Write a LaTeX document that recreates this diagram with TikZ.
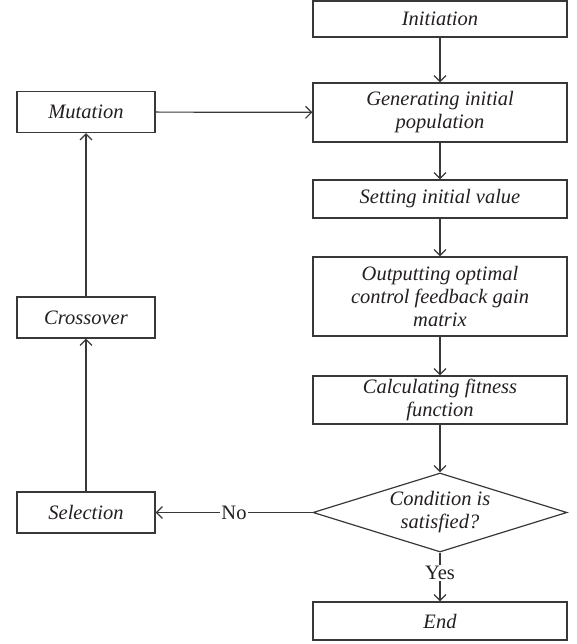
\documentclass[tikz,border=0pt]{standalone}
\usepackage{fontspec}
\setmainfont{Liberation Serif}
\usetikzlibrary{shapes.geometric,arrows.meta}
\definecolor{linec}{HTML}{383838}
\definecolor{txt}{HTML}{231F20}
\begin{document}
\begin{tikzpicture}[x=1pt,y=-1pt,
  box/.style={draw=linec, line width=1.2pt, rectangle, inner sep=0pt, align=center,
    font=\fontsize{20.5}{23}\selectfont\itshape, text=txt},
  rbox/.style={box, minimum width=254pt},
  lbox/.style={box, minimum width=138pt, minimum height=41pt},
  dec/.style={draw=linec, line width=1.2pt, diamond, inner sep=0pt, aspect=3.2,
    minimum width=254pt, minimum height=79pt, align=center,
    font=\fontsize{20.5}{23}\selectfont\itshape, text=txt},
  arr/.style={draw=linec, line width=1.2pt, -{Straight Barb[length=6pt,width=12pt]}},
  lab/.style={fill=white, inner sep=1pt, font=\fontsize{20.5}{23}\selectfont, text=txt}
]
\useasboundingbox (0,0) rectangle (576,644);

\node[rbox, minimum height=36pt] (init) at (440,19) {Initiation};
\node[rbox, minimum height=59pt] (gen) at (440,112.5) {Generating initial\\population};
\node[rbox, minimum height=38pt] (set) at (440,199) {Setting initial value};
\node[rbox, minimum height=79pt] (out) at (440,296.5) {Outputting optimal\\control feedback gain\\matrix};
\node[rbox, minimum height=48pt] (calc) at (440,400) {Calculating fitness\\function};
\node[dec] (cond) at (440,512.5) {Condition is\\satisfied?};
\node[rbox, minimum height=38pt] (endn) at (440,621) {End};

\node[lbox] (mut) at (86,112) {Mutation};
\node[lbox] (cross) at (86,317.5) {Crossover};
\node[lbox] (sel) at (86,512.5) {Selection};

\draw[arr] (init) -- (gen);
\draw[arr] (gen) -- (set);
\draw[arr] (set) -- (out);
\draw[arr] (out) -- (calc);
\draw[arr] (calc) -- (cond);
\draw[arr] (cond) -- node[lab, pos=0.42] {Yes} (endn);
\draw[arr] (cond) -- node[lab] {No} (sel);
\draw[arr] (sel) -- (cross);
\draw[arr] (cross) -- (mut);
\draw[arr] (mut) -- (gen);
\end{tikzpicture}
\end{document}
